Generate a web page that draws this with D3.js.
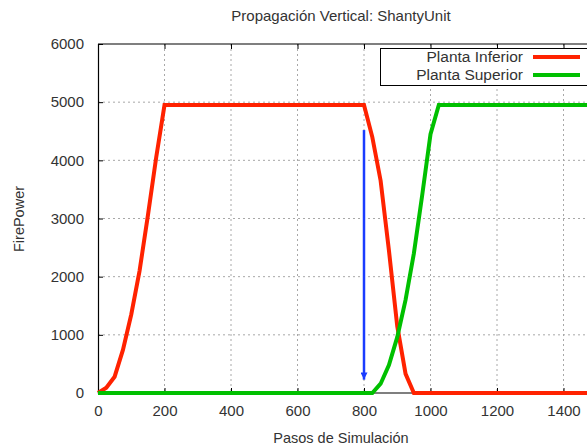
<!DOCTYPE html>
<html>
<head>
<meta charset="utf-8">
<script src="https://cdn.jsdelivr.net/npm/d3@7"></script>
<style>
  body { margin: 0; background: #fff; overflow: hidden; }
  text { font-family: "Liberation Sans", Arial, sans-serif; fill: #333; }
</style>
</head>
<body>
<div id="chart-area"></div>
<script>
// data
var redSteps   = [0, 25, 50, 75, 100, 125, 150, 175, 200, 800, 825, 850, 875, 900, 925, 950, 1600];
var redValues  = [0, 90, 280, 740, 1350, 2100, 3050, 4050, 4950, 4950, 4400, 3650, 2450, 1150, 330, 0, 0];
var greenSteps  = [0, 825, 850, 875, 900, 925, 950, 975, 1000, 1025, 1600];
var greenValues = [0, 0, 160, 480, 960, 1600, 2400, 3400, 4450, 4950, 4950];
var seriesNames = ["Planta Inferior", "Planta Superior"];
var xTicks = [0, 200, 400, 600, 800, 1000, 1200, 1400];
var yTicks = [0, 1000, 2000, 3000, 4000, 5000, 6000];
var arrowStep = 800, arrowFrom = 4520, arrowTo = 230;

var width = 587, height = 447;
var mLeft = 98, mTop = 44, mBottom = 393;

var svg = d3.select("#chart-area").append("svg").attr("width", width).attr("height", height);

var x = d3.scaleLinear().domain([0, 1600]).range([mLeft, mLeft + 1600 * 0.3325]);
var y = d3.scaleLinear().domain([0, 6000]).range([mBottom, mTop]);

// grid
svg.append("g").selectAll("line").data(xTicks.slice(1)).enter().append("line")
  .attr("x1", d => x(d)).attr("x2", d => x(d)).attr("y1", mTop).attr("y2", mBottom)
  .attr("stroke", "#a8a8a8").attr("stroke-dasharray", "2,3");
svg.append("g").selectAll("line").data(yTicks.slice(1, -1)).enter().append("line")
  .attr("x1", mLeft).attr("x2", x(1600)).attr("y1", d => y(d)).attr("y2", d => y(d))
  .attr("stroke", "#a8a8a8").attr("stroke-dasharray", "2,3");

// axes
var xAxis = d3.axisBottom(x).tickValues(xTicks).tickSize(-5).tickPadding(12).tickFormat(d3.format("d"));
svg.append("g").attr("class", "x axis").attr("transform", "translate(0," + mBottom + ")").call(xAxis);
var xTop = d3.axisTop(x).tickValues(xTicks).tickSize(-5).tickFormat("");
svg.append("g").attr("class", "x2 axis").attr("transform", "translate(0," + mTop + ")").call(xTop);
var yAxis = d3.axisLeft(y).tickValues(yTicks).tickSize(-5).tickPadding(14).tickFormat(d3.format("d"));
svg.append("g").attr("class", "y axis").attr("transform", "translate(" + mLeft + ",0)").call(yAxis);

svg.selectAll(".axis .domain").attr("stroke", "#000").attr("stroke-width", 1.2);
svg.selectAll(".axis .tick line").attr("stroke", "#000");
svg.selectAll(".axis text").style("font-size", "15px").style("fill", "#333")
  .attr("font-family", null);
svg.select(".x2.axis .domain").attr("d", "M" + mLeft + ",0H" + x(1600));
svg.select(".x.axis .domain").attr("d", "M" + mLeft + ",0H" + x(1600));

// lines
var line = d3.line().x(d => x(d[0])).y(d => y(d[1]));
svg.append("path").datum(d3.zip(redSteps, redValues)).attr("d", line)
  .attr("fill", "none").attr("stroke", "#ff2200").attr("stroke-width", 4);
svg.append("path").datum(d3.zip(greenSteps, greenValues)).attr("d", line)
  .attr("fill", "none").attr("stroke", "#00c000").attr("stroke-width", 4);

// arrow
svg.append("defs").append("marker").attr("id", "head")
  .attr("viewBox", "0 0 10 10").attr("refX", 10).attr("refY", 5)
  .attr("markerWidth", 3.6).attr("markerHeight", 2.8).attr("markerUnits", "strokeWidth")
  .attr("orient", "auto")
  .append("path").attr("d", "M0,0L10,5L0,10z").attr("fill", "#1a3cff");
svg.append("line").attr("x1", x(arrowStep)).attr("x2", x(arrowStep))
  .attr("y1", y(arrowFrom)).attr("y2", y(arrowTo))
  .attr("stroke", "#1a3cff").attr("stroke-width", 2.5).attr("marker-end", "url(#head)");

// legend
var lg = svg.append("g");
lg.append("rect").attr("x", 380.5).attr("y", 48.5).attr("width", 300).attr("height", 37)
  .attr("fill", "#fff").attr("stroke", "#000");
var colors = ["#ff2200", "#00c000"];
seriesNames.forEach(function(name, i) {
  var yy = 57 + i * 18;
  lg.append("text").attr("x", 523).attr("y", yy + 5).attr("text-anchor", "end")
    .style("font-size", "15.5px").text(name);
  lg.append("line").attr("x1", 533).attr("x2", 580).attr("y1", yy).attr("y2", yy)
    .attr("stroke", colors[i]).attr("stroke-width", 4);
});

// titles
svg.append("text").attr("x", 341).attr("y", 21).attr("text-anchor", "middle")
  .style("font-size", "15px").text("Propagación Vertical: ShantyUnit");
svg.append("text").attr("x", 341).attr("y", 443).attr("text-anchor", "middle")
  .style("font-size", "14.5px").text("Pasos de Simulación");
svg.append("text").attr("transform", "translate(24,219) rotate(-90)").attr("text-anchor", "middle")
  .style("font-size", "14.5px").text("FirePower");
</script>
</body>
</html>
